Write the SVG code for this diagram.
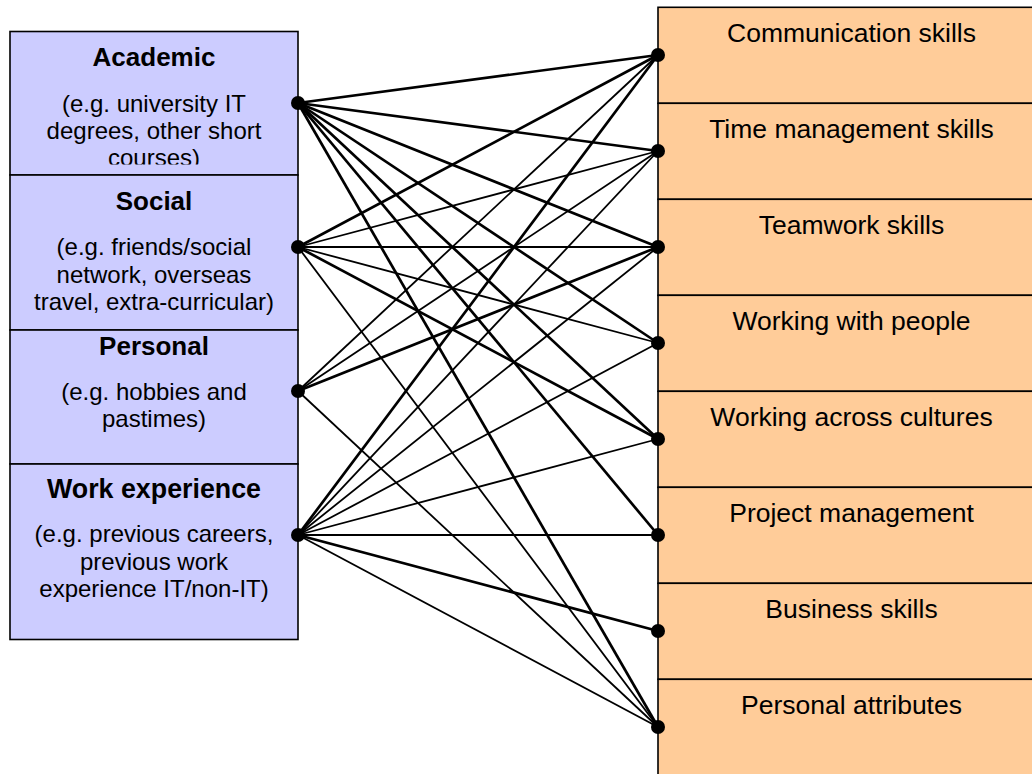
<svg xmlns="http://www.w3.org/2000/svg" width="1032" height="774" viewBox="0 0 1032 774">
<style>
.lbox{fill:#CCCCFF;stroke:#000;stroke-width:1.6}
.rbox{fill:#FFCC99;stroke:#000;stroke-width:1.6}
.t{font-family:"Liberation Sans",Arial,sans-serif;fill:#000;text-anchor:middle}
.h{font-size:26px;font-weight:bold}
.s{font-size:24px}
.r{font-size:26.5px}
.thick{stroke:#000;stroke-width:2.7;fill:none}
.thin{stroke:#000;stroke-width:1.8;fill:none}
.dot{fill:#000}
</style>
<defs>
<clipPath id="clipA"><rect x="10" y="31.5" width="288" height="133"/></clipPath>
</defs>
<rect width="1032" height="774" fill="#fff"/>
<g id="skills">
<g id="communication"><rect class="rbox" x="658" y="7.3" width="400" height="96"/><text class="t r" x="851.5" y="42.3">Communication skills</text></g>
<g id="time-management"><rect class="rbox" x="658" y="103.3" width="400" height="96"/><text class="t r" x="851.5" y="138.3">Time management skills</text></g>
<g id="teamwork"><rect class="rbox" x="658" y="199.3" width="400" height="96"/><text class="t r" x="851.5" y="234.3">Teamwork skills</text></g>
<g id="working-with-people"><rect class="rbox" x="658" y="295.3" width="400" height="96"/><text class="t r" x="851.5" y="330.3">Working with people</text></g>
<g id="working-across-cultures"><rect class="rbox" x="658" y="391.3" width="400" height="96"/><text class="t r" x="851.5" y="426.3">Working across cultures</text></g>
<g id="project-management"><rect class="rbox" x="658" y="487.3" width="400" height="96"/><text class="t r" x="851.5" y="522.3">Project management</text></g>
<g id="business-skills"><rect class="rbox" x="658" y="583.3" width="400" height="96"/><text class="t r" x="851.5" y="618.3">Business skills</text></g>
<g id="personal-attributes"><rect class="rbox" x="658" y="679.3" width="400" height="110"/><text class="t r" x="851.5" y="714.3">Personal attributes</text></g>
</g>
<g id="sources">
<g id="academic"><rect class="lbox" x="10" y="31.5" width="288" height="143.5"/>
<text class="t h" x="154" y="65.5">Academic</text>
<g clip-path="url(#clipA)"><text class="t s" x="154" y="111.7">(e.g. university IT</text><text class="t s" x="154" y="139">degrees, other short</text><text class="t s" x="154" y="166">courses)</text></g></g>
<g id="social"><rect class="lbox" x="10" y="175" width="288" height="155"/>
<text class="t h" x="154" y="209.5">Social</text>
<text class="t s" x="154" y="255">(e.g. friends/social</text><text class="t s" x="154" y="282.5">network, overseas</text><text class="t s" x="154" y="309.5">travel, extra-curricular)</text></g>
<g id="personal"><rect class="lbox" x="10" y="330" width="288" height="134"/>
<text class="t h" x="154" y="354.5">Personal</text>
<text class="t s" x="154" y="399.5">(e.g. hobbies and</text><text class="t s" x="154" y="426.5">pastimes)</text></g>
<g id="work-experience"><rect class="lbox" x="10" y="464" width="288" height="175.5"/>
<text class="t h" x="154" y="497.5" style="font-size:26.8px">Work experience</text>
<text class="t s" x="154" y="542">(e.g. previous careers,</text><text class="t s" x="154" y="569.5">previous work</text><text class="t s" x="154" y="597">experience IT/non-IT)</text></g>
</g>
<g id="connectors">
<line class="thick" x1="298" y1="103" x2="658" y2="55"/>
<line class="thick" x1="298" y1="103" x2="658" y2="151"/>
<line class="thick" x1="298" y1="103" x2="658" y2="247"/>
<line class="thick" x1="298" y1="103" x2="658" y2="343"/>
<line class="thick" x1="298" y1="103" x2="658" y2="439"/>
<line class="thick" x1="298" y1="103" x2="658" y2="535"/>
<line class="thick" x1="298" y1="103" x2="658" y2="727"/>
<line class="thick" x1="298" y1="247" x2="658" y2="55"/>
<line class="thin" x1="298" y1="247" x2="658" y2="151"/>
<line class="thin" x1="298" y1="247" x2="658" y2="247"/>
<line class="thin" x1="298" y1="247" x2="658" y2="343"/>
<line class="thick" x1="298" y1="247" x2="658" y2="439"/>
<line class="thin" x1="298" y1="247" x2="658" y2="727"/>
<line class="thin" x1="298" y1="391" x2="658" y2="55"/>
<line class="thin" x1="298" y1="391" x2="658" y2="151"/>
<line class="thick" x1="298" y1="391" x2="658" y2="247"/>
<line class="thin" x1="298" y1="391" x2="658" y2="727"/>
<line class="thick" x1="298" y1="535" x2="658" y2="55"/>
<line class="thin" x1="298" y1="535" x2="658" y2="151"/>
<line class="thin" x1="298" y1="535" x2="658" y2="247"/>
<line class="thin" x1="298" y1="535" x2="658" y2="343"/>
<line class="thin" x1="298" y1="535" x2="658" y2="439"/>
<line class="thin" x1="298" y1="535" x2="658" y2="535"/>
<line class="thick" x1="298" y1="535" x2="658" y2="631"/>
<line class="thin" x1="298" y1="535" x2="658" y2="727"/>
<g class="dot">
<circle cx="298" cy="103" r="7"/><circle cx="298" cy="247" r="7"/><circle cx="298" cy="391" r="7"/><circle cx="298" cy="535" r="7"/>
<circle cx="658" cy="55" r="7"/><circle cx="658" cy="151" r="7"/><circle cx="658" cy="247" r="7"/><circle cx="658" cy="343" r="7"/>
<circle cx="658" cy="439" r="7"/><circle cx="658" cy="535" r="7"/><circle cx="658" cy="631" r="7"/><circle cx="658" cy="727" r="7"/>
</g>
</g>
</svg>
